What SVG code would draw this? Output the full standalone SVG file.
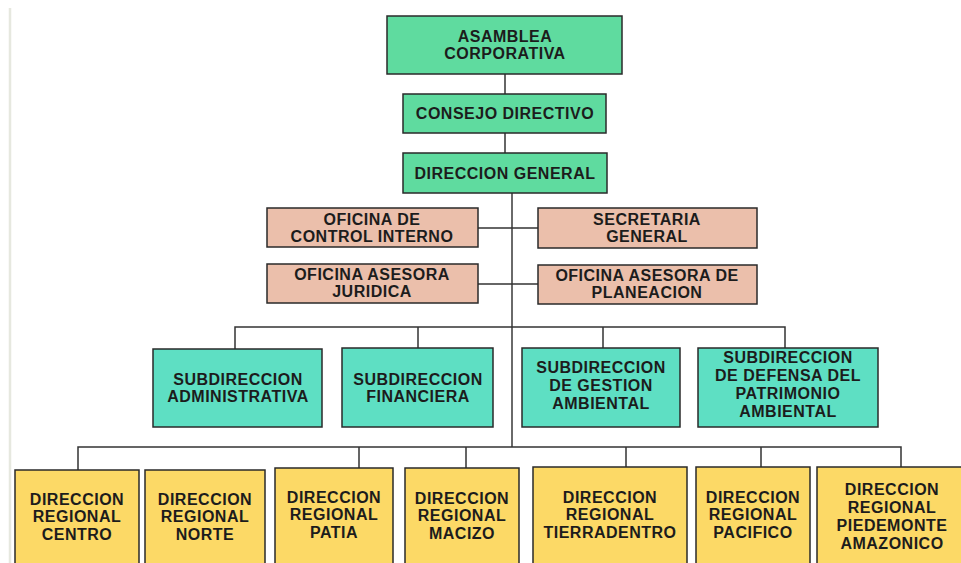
<svg xmlns="http://www.w3.org/2000/svg" width="961" height="563" viewBox="0 0 961 563">
<style>
rect.n{stroke:#2a2a2a;stroke-width:1.5}
.g{fill:#5FDB9F}
.t{fill:#5EDFC3}
.p{fill:#EBBFAB}
.y{fill:#FCD966}
text{font-family:"Liberation Sans",Arial,sans-serif;font-weight:bold;font-size:16px;letter-spacing:0.5px;fill:#1c1c1c;text-anchor:middle}
#connectors line,#connectors path{stroke:#333;stroke-width:1.5;fill:none}
</style>
<rect width="961" height="563" fill="#fff"/>
<line x1="10" y1="8" x2="10" y2="563" stroke="#e6e8df" stroke-width="2.5"/>
<g id="connectors">
<line x1="505" y1="74" x2="505" y2="94"/>
<line x1="505" y1="133" x2="505" y2="153"/>
<line x1="512" y1="193" x2="512" y2="447" style="stroke:#6a6a6a;stroke-width:2"/>
<line x1="478" y1="228" x2="538" y2="228"/>
<line x1="478" y1="284" x2="538" y2="284"/>
<path d="M235,349 V327 H785 V348 M418,327 V348 M603,327 V348"/>
<path d="M78,470 V447 H901 V467 M359,447 V468 M466,447 V468 M626,447 V467 M761,447 V467"/>
</g>
<g id="asamblea"><rect class="n g" x="387" y="16" width="235" height="58"/><text x="505" y="42">ASAMBLEA</text><text x="505" y="59">CORPORATIVA</text></g>
<g id="consejo"><rect class="n g" x="403" y="94" width="203" height="39"/><text x="505" y="119">CONSEJO DIRECTIVO</text></g>
<g id="direccion-general"><rect class="n g" x="403" y="153" width="204" height="40"/><text x="505" y="179">DIRECCION GENERAL</text></g>
<g id="control-interno"><rect class="n p" x="267" y="208" width="211" height="39"/><text x="372" y="225">OFICINA DE</text><text x="372" y="242">CONTROL INTERNO</text></g>
<g id="secretaria"><rect class="n p" x="538" y="208" width="219" height="40"/><text x="647" y="225">SECRETARIA</text><text x="647" y="242">GENERAL</text></g>
<g id="juridica"><rect class="n p" x="267" y="264" width="211" height="39"/><text x="372" y="280">OFICINA ASESORA</text><text x="372" y="297">JURIDICA</text></g>
<g id="planeacion"><rect class="n p" x="538" y="265" width="219" height="39"/><text x="647" y="281">OFICINA ASESORA DE</text><text x="647" y="298">PLANEACION</text></g>
<g id="sub-admin"><rect class="n t" x="153" y="349" width="169" height="78"/><text x="238" y="385">SUBDIRECCION</text><text x="238" y="402">ADMINISTRATIVA</text></g>
<g id="sub-fin"><rect class="n t" x="342" y="348" width="151" height="79"/><text x="418" y="385">SUBDIRECCION</text><text x="418" y="402">FINANCIERA</text></g>
<g id="sub-gestion"><rect class="n t" x="522" y="348" width="158" height="79"/><text x="601" y="373">SUBDIRECCION</text><text x="601" y="391">DE GESTION</text><text x="601" y="409">AMBIENTAL</text></g>
<g id="sub-defensa"><rect class="n t" x="698" y="348" width="180" height="79"/><text x="788" y="363">SUBDIRECCION</text><text x="788" y="381">DE DEFENSA DEL</text><text x="788" y="399">PATRIMONIO</text><text x="788" y="417">AMBIENTAL</text></g>
<g id="centro"><rect class="n y" x="15" y="470" width="124" height="100"/><text x="77" y="505">DIRECCION</text><text x="77" y="522">REGIONAL</text><text x="77" y="540">CENTRO</text></g>
<g id="norte"><rect class="n y" x="145" y="470" width="120" height="100"/><text x="205" y="505">DIRECCION</text><text x="205" y="522">REGIONAL</text><text x="205" y="540">NORTE</text></g>
<g id="patia"><rect class="n y" x="275" y="468" width="118" height="100"/><text x="334" y="503">DIRECCION</text><text x="334" y="520">REGIONAL</text><text x="334" y="538">PATIA</text></g>
<g id="macizo"><rect class="n y" x="405" y="468" width="114" height="100"/><text x="462" y="504">DIRECCION</text><text x="462" y="521">REGIONAL</text><text x="462" y="539">MACIZO</text></g>
<g id="tierradentro"><rect class="n y" x="533" y="467" width="154" height="100"/><text x="610" y="503">DIRECCION</text><text x="610" y="520">REGIONAL</text><text x="610" y="538">TIERRADENTRO</text></g>
<g id="pacifico"><rect class="n y" x="696" y="467" width="114" height="100"/><text x="753" y="503">DIRECCION</text><text x="753" y="520">REGIONAL</text><text x="753" y="538">PACIFICO</text></g>
<g id="piedemonte"><rect class="n y" x="817" y="467" width="150" height="100"/><text x="892" y="495">DIRECCION</text><text x="892" y="513">REGIONAL</text><text x="892" y="531">PIEDEMONTE</text><text x="892" y="549">AMAZONICO</text></g>
</svg>
